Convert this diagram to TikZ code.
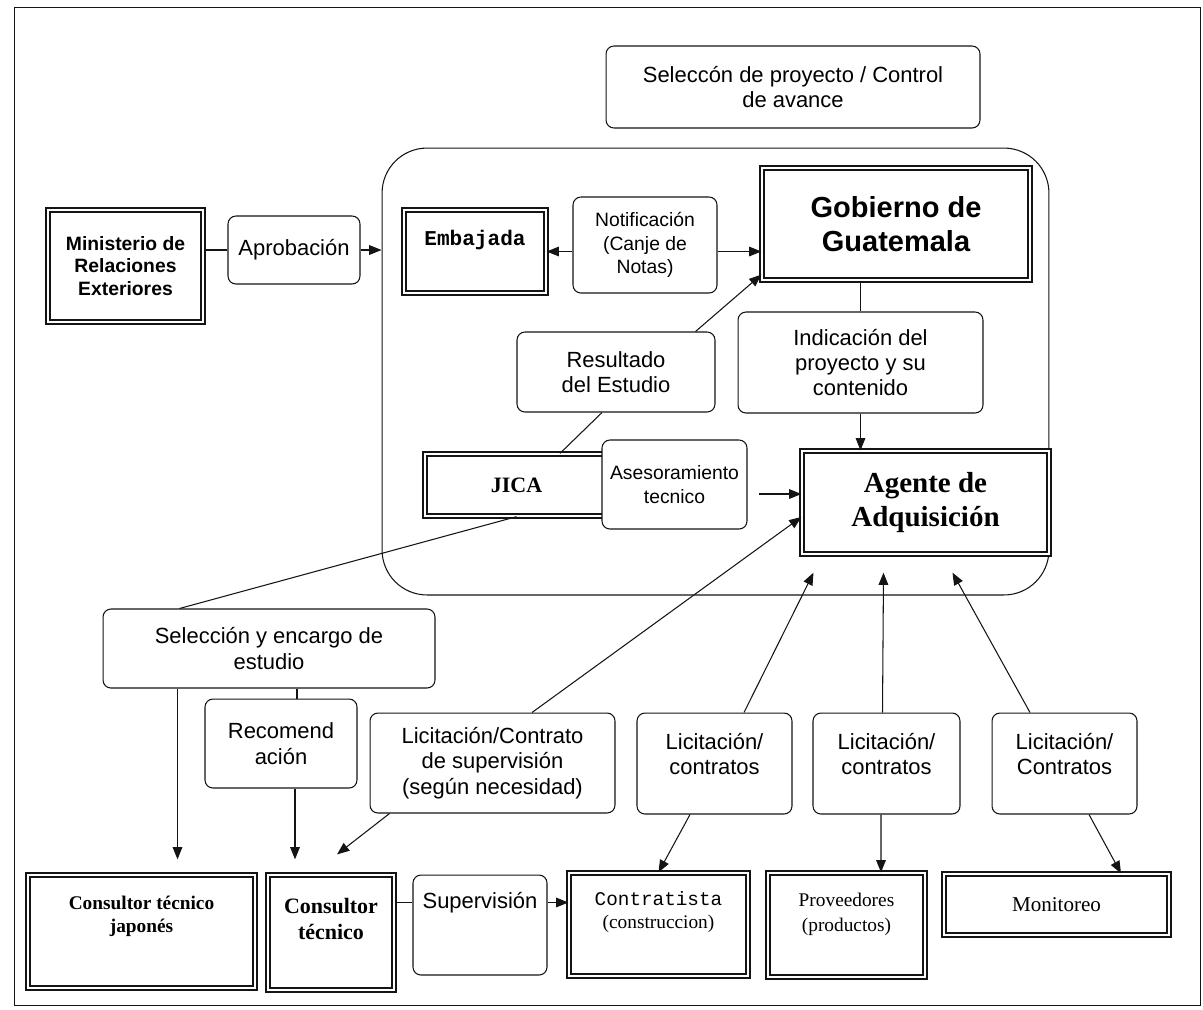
\documentclass[tikz,border=0pt]{standalone}
\usepackage{fontspec}
\setmainfont{Liberation Serif}
\setsansfont{Liberation Sans}
\setmonofont{Liberation Mono}
\usepackage{tikz}
\usetikzlibrary{arrows.meta,calc}
\definecolor{figline}{RGB}{20,20,20}
\tikzset{
  rb/.style  ={draw=figline, line width=0.6pt, rounded corners=4.5pt, fill=white, align=center, inner sep=1pt, font=\sffamily\fontsize{12.5}{14.5}\selectfont},
  rbs/.style ={rb, font=\sffamily\fontsize{11}{13.2}\selectfont},
  db/.style  ={draw=figline, line width=0.75pt, double, double distance=1.5pt, fill=white, align=center, inner sep=1pt},
  grp/.style ={draw=figline, line width=0.6pt, rounded corners=0.9cm},
  txt/.style ={align=center, inner sep=0pt},
  rt/.style  ={txt, font=\sffamily\fontsize{12.5}{14.5}\selectfont},
  ln/.style  ={draw=figline, line width=0.6pt},
  arr/.style ={ln, -{Triangle[length=7pt,width=5.5pt]}},
}

\begin{document}
\begin{tikzpicture}[x=0.02cm,y=-0.02cm]
  \useasboundingbox (0,0) rectangle (1203,1009);
  \draw[ln, line width=0.5pt] (14,7) rectangle (1200,1005);
  \node[grp, minimum width=13.34cm, minimum height=8.94cm] (grp) at (715.5,371.5) {};
  % upper part
  \node[rb, minimum width=7.48cm, minimum height=1.64cm] (sel) at (793,87) {Seleccón de proyecto / Control\\de avance};
  \node[db, minimum width=3.1cm, minimum height=2.24cm, font=\sffamily\bfseries\fontsize{11}{13}\selectfont] (min) at (125.5,266) {Ministerio de\\Relaciones\\Exteriores};
  \node[rb, minimum width=2.64cm, minimum height=1.36cm] (apr) at (294,250) {Aprobación};
  \node[db, minimum width=2.84cm, minimum height=1.66cm] (emb) at (475,251.5) {};
  \node[txt, font=\ttfamily\bfseries\fontsize{12}{14}\selectfont] (embt) at ($(emb)+(0,-11.5)$) {Embajada};
  \node[rbs, minimum width=2.88cm, minimum height=1.92cm] (notif) at (645,245) {Notificación\\(Canje de\\Notas)};
  \node[db, minimum width=5.36cm, minimum height=2.24cm, font=\sffamily\bfseries\fontsize{16.5}{19}\selectfont] (gob) at (896,224) {Gobierno de\\Guatemala};
  \node[rb, minimum width=3.96cm, minimum height=1.6cm] (res) at (616,372) {Resultado\\del Estudio};
  \node[rb, minimum width=4.9cm, minimum height=2.02cm] (ind) at (860.5,362.5) {Indicación del\\proyecto y su\\contenido};
  \node[db, minimum width=3.66cm, minimum height=1.24cm, font=\rmfamily\bfseries\fontsize{12.5}{14}\selectfont] (jica) at (516.5,485) {JICA};
  \node[rbs, minimum width=2.9cm, minimum height=1.78cm] (ases) at (674.5,484.5) {Asesoramiento\\tecnico};
  \node[db, minimum width=4.94cm, minimum height=2.06cm, font=\rmfamily\bfseries\fontsize{16.5}{19}\selectfont] (agente) at (925.5,502.5) {Agente de\\Adquisición};
  % lower part
  \node[rb, minimum width=6.64cm, minimum height=1.58cm] (enc) at (269,648.5) {Selección y encargo de\\estudio};
  \node[rb, minimum width=3.04cm, minimum height=1.78cm] (recom) at (281,743.5) {Recomend\\ación};
  \node[rb, minimum width=4.9cm, minimum height=2cm] (licsup) at (492.5,763) {Licitación/Contrato\\de supervisión\\(según necesidad)};
  \node[rb, minimum width=3.1cm, minimum height=2.02cm] (lic1) at (714.5,763.5) {};
  \node[rt] (lic1t) at ($(lic1)+(0,-9.5)$) {Licitación/\\contratos};
  \node[rb, minimum width=2.94cm, minimum height=2.02cm] (lic2) at (886.5,763.5) {};
  \node[rt] (lic2t) at ($(lic2)+(0,-9.5)$) {Licitación/\\contratos};
  \node[rb, minimum width=2.9cm, minimum height=2.02cm] (lic3) at (1064.5,763.5) {};
  \node[rt] (lic3t) at ($(lic3)+(0,-9.5)$) {Licitación/\\Contratos};
  \node[db, minimum width=4.54cm, minimum height=2.26cm] (cj) at (141.5,931.5) {};
  \node[txt, font=\rmfamily\bfseries\fontsize{11}{13}\selectfont] (cjt) at ($(cj)+(0,-15.5)$) {Consultor técnico\\japonés};
  \node[db, minimum width=2.52cm, minimum height=2.3cm] (ct) at (331,932.5) {};
  \node[txt, font=\rmfamily\bfseries\fontsize{12.5}{14.7}\selectfont] (ctt) at ($(ct)+(0,-13.5)$) {Consultor\\técnico};
  \node[rb, minimum width=2.68cm, minimum height=2cm] (sup) at (480,925) {};
  \node[rt] (supt) at ($(sup)+(0,-22)$) {Supervisión};
  \node[db, minimum width=3.58cm, minimum height=2.06cm] (contr) at (658.5,924.5) {};
  \node[txt, font=\rmfamily\fontsize{11}{13.6}\selectfont] (contrt) at ($(contr)+(0,-12.5)$) {{\ttfamily Contratista}\\(construccion)};
  \node[db, minimum width=3.14cm, minimum height=2.08cm] (prov) at (846.5,925) {};
  \node[txt, font=\rmfamily\fontsize{11}{14.2}\selectfont] (provt) at ($(prov)+(0,-11)$) {Proveedores\\(productos)};
  \node[db, minimum width=4.5cm, minimum height=1.22cm, font=\rmfamily\fontsize{12}{14}\selectfont] (mon) at (1056.5,904.5) {Monitoreo};
  % free ends
  \coordinate (tipy) at ($(cj.north)+(0,-15)$);
  \coordinate (encl) at ($(enc.south west)+(75,0)$);
  \coordinate (rtop) at ($(recom.north)+(16,0)$);
  \coordinate (rbot) at ($(recom.south)+(14,0)$);
  \coordinate (ctin) at ($(ct.north)+(6,-20)$);
  \coordinate (asesr) at ($(ases.east)+(11,9.5)$);
  \coordinate (ag1) at ($(agente.south)+(-112,18)$);
  \coordinate (ag2) at ($(agente.south)+(-42,18)$);
  \coordinate (ag3) at ($(agente.south)+(27,18)$);
  \coordinate (supy) at ($(sup.north)+(0,28)$);
  % connectors
  \draw[ln] (min.east |- apr.west) -- (apr.west);
  \draw[arr] (apr.east) -- (apr.east -| grp.west);
  \draw[arr] (emb.east -| notif.west) -- (emb.east);
  \draw[arr] (emb.east -| notif.east) -- (emb.east -| gob.west);
  \draw[arr] ($(res.north east)+(-20,0)$) -- ($(gob.south west)+(0,-6)$);
  \draw[ln] ($(res.south)+(-14,0)$) -- ($(jica.north)+(43.5,0)$);
  \draw[ln] (ind.north |- gob.south) -- (ind.north);
  \draw[arr] (ind.south) -- (ind.south |- agente.north);
  \draw[arr] (asesr) -- (asesr -| agente.west);
  \draw[ln] (jica.south) -- ($(enc.north west)+(77,0)$);
  \draw[arr] (encl) -- (encl |- tipy);
  \draw[ln] (rtop |- enc.south) -- (rtop);
  \draw[arr] (rbot) -- (rbot |- tipy);
  \draw[arr] ($(licsup.south west)+(20,0)$) -- (ctin);
  \draw[arr] ($(licsup.north)+(39.5,0)$) -- ($(agente.west)+(0,14.5)$);
  \draw[arr] ($(lic1.north)+(29.5,0)$) -- (ag1);
  \draw[arr] ($(lic2.north)+(-4,0)$) -- (ag2);
  \draw[arr] ($(lic3.north)+(-34.5,0)$) -- (ag3);
  \draw[arr] ($(lic1.south)+(-24.5,0)$) -- (contr.north);
  \draw[arr] ($(lic2.south)+(-5.5,0)$) -- ($(prov.north)+(34.5,0)$);
  \draw[arr] ($(lic3.south)+(24.5,0)$) -- ($(mon.north)+(64.5,0)$);
  \draw[ln] (ct.east |- supy) -- (sup.west |- supy);
  \draw[arr] (sup.east |- supy) -- (contr.west |- supy);
\end{tikzpicture}
\end{document}
